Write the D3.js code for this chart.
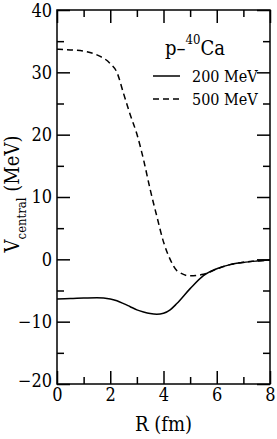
<!DOCTYPE html>
<html><head><meta charset="utf-8">
<script src="https://cdn.jsdelivr.net/npm/d3@7"></script>
<style>
body{margin:0;background:#fff;}
svg{display:block;}
text{font-stretch:condensed;}
</style></head>
<body><svg id="c" width="277" height="439"></svg>
<script>
const R = [0, 0.5, 1, 1.5, 2, 2.25, 2.5, 2.75, 3, 3.25, 3.5, 3.75, 4, 4.25, 4.5, 5, 5.5, 6, 6.5, 7, 7.5, 8];
const V200 = [-6.35, -6.3, -6.2, -6.15, -6.35, -6.65, -7.1, -7.6, -8.1, -8.45, -8.7, -8.8, -8.65, -8.1, -7.1, -4.7, -2.6, -1.5, -0.85, -0.5, -0.28, -0.12];
const V500 = [33.7, 33.6, 33.4, 32.8, 31.4, 30.0, 26.6, 23.2, 20.1, 16.0, 11.2, 6.9, 2.8, 0.0, -1.8, -2.65, -2.4, -1.55, -0.85, -0.45, -0.28, -0.12];
const xMajor = [0, 2, 4, 6, 8];
const xMinor = [1, 3, 5, 7];
const yMajor = [-20, -10, 0, 10, 20, 30, 40];
const yMinor = [-15, -5, 5, 15, 25, 35];
const legendLabels = ["200 MeV", "500 MeV"];

const FONT = "DejaVu Serif Condensed, DejaVu Serif";
const svg = d3.select("#c").attr("font-family", FONT);
const L = 57, Rr = 270, T = 10, B = 384;
const x = d3.scaleLinear().domain([0, 8]).range([L, Rr]);
const y = d3.scaleLinear().domain([-20, 40]).range([B, T]);

function styleAxis(g){
  g.attr("font-family", FONT);
  g.select(".domain").remove();
  g.selectAll(".tick line").attr("stroke","#000").attr("stroke-width",1.5);
  g.selectAll(".tick text").attr("font-family", FONT).style("font-size","18px").attr("fill","#000");
}
// bottom
svg.append("g").attr("transform",`translate(0,${B})`)
  .call(d3.axisBottom(x).tickValues(xMajor).tickSize(-13).tickPadding(4).tickFormat(d3.format("d")))
  .call(styleAxis);
svg.append("g").attr("transform",`translate(0,${B})`)
  .call(d3.axisBottom(x).tickValues(xMinor).tickSize(-7).tickFormat(""))
  .call(styleAxis);
// top
svg.append("g").attr("transform",`translate(0,${T})`)
  .call(d3.axisTop(x).tickValues(xMajor).tickSize(-13).tickFormat(""))
  .call(styleAxis);
svg.append("g").attr("transform",`translate(0,${T})`)
  .call(d3.axisTop(x).tickValues(xMinor).tickSize(-7).tickFormat(""))
  .call(styleAxis);
// left
const yl = svg.append("g").attr("transform",`translate(${L},0)`)
  .call(d3.axisLeft(y).tickValues(yMajor).tickSize(-13).tickPadding(5).tickFormat(d=> d<0 ? "\u2212"+Math.abs(d) : d))
  .call(styleAxis);
yl.selectAll(".tick").filter(d=>d===-20).select("text").attr("dy","0.12em");
yl.selectAll(".tick").filter(d=>d===40).select("text").attr("dy","0.36em");
svg.append("g").attr("transform",`translate(${L},0)`)
  .call(d3.axisLeft(y).tickValues(yMinor).tickSize(-7).tickFormat(""))
  .call(styleAxis);
// right
svg.append("g").attr("transform",`translate(${Rr},0)`)
  .call(d3.axisRight(y).tickValues(yMajor).tickSize(-13).tickFormat(""))
  .call(styleAxis);
svg.append("g").attr("transform",`translate(${Rr},0)`)
  .call(d3.axisRight(y).tickValues(yMinor).tickSize(-7).tickFormat(""))
  .call(styleAxis);

// frame
svg.append("rect").attr("x",L).attr("y",T).attr("width",Rr-L).attr("height",B-T)
  .attr("fill","none").attr("stroke","#000").attr("stroke-width",1.5);

// curves
const line = d3.line().x(d=>x(d[0])).y(d=>y(d[1])).curve(d3.curveMonotoneX);
svg.append("path").datum(R.map((r,i)=>[r,V200[i]])).attr("d",line)
  .attr("fill","none").attr("stroke","#000").attr("stroke-width",1.5);
svg.append("path").datum(R.map((r,i)=>[r,V500[i]])).attr("d",line)
  .attr("fill","none").attr("stroke","#000").attr("stroke-width",1.5).attr("stroke-dasharray","6,4");

function txt(sel){ return sel.attr("font-family", FONT).attr("fill","#000"); }
// axis titles
txt(svg.append("text")).attr("x",(L+Rr)/2).attr("y",431).attr("text-anchor","middle")
  .style("font-size","20px").text("R (fm)");
const yt = txt(svg.append("text")).attr("transform","translate(19,194) rotate(-90)").attr("text-anchor","middle")
  .style("font-size","20px");
yt.append("tspan").text("V");
yt.append("tspan").attr("dy",7).style("font-size","13px").text("central");
yt.append("tspan").attr("dy",-7).text(" (MeV)");

// legend
const lt = txt(svg.append("text")).attr("x",165).attr("y",55).style("font-size","20px");
lt.append("tspan").text("p\u2013");
lt.append("tspan").attr("dy",-11).style("font-size","13px").text("40");
lt.append("tspan").attr("dy",11).text("Ca");

const ly = [76, 99];
const dashes = [null, "6,4"];
legendLabels.forEach((lab,i)=>{
  svg.append("line").attr("x1",153).attr("x2",180).attr("y1",ly[i]).attr("y2",ly[i])
    .attr("stroke","#000").attr("stroke-width",1.5).attr("stroke-dasharray",dashes[i]);
  txt(svg.append("text")).attr("x",192).attr("y",ly[i]+6).style("font-size","16px").text(lab);
});
</script></body></html>
